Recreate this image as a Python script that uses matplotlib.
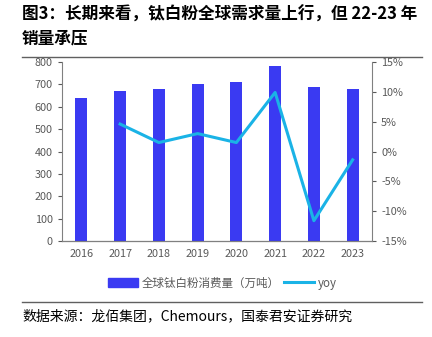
import numpy as np
import matplotlib.pyplot as plt
from matplotlib.lines import Line2D

plt.rcParams['font.family'] = ['Noto Sans CJK SC', 'DejaVu Sans']

# 数据
years = ['2016', '2017', '2018', '2019', '2020', '2021', '2022', '2023']
consumption = [638, 670, 680, 700, 710, 780, 690, 680]
yoy = [np.nan, 4.6, 1.5, 3.0, 1.5, 9.9, -11.6, -1.4]

bar_color = '#3a3af2'
line_color = '#1ab3e6'
tick_color = '#595959'

fig = plt.figure(figsize=(4.32, 3.37), dpi=100)
ax = fig.add_axes([62/432, 1-241/337, 310/432, 179/337])
x = np.arange(len(years))
ax.bar(x, consumption, width=0.31, color=bar_color, zorder=2)
ax.set_xlim(-0.5, len(years) - 0.5)
ax.set_ylim(0, 800)
ax.set_yticks(range(0, 801, 100))
ax.set_xticks(x)
ax.set_xticklabels(years)

ax2 = ax.twinx()
ax2.plot(x, yoy, color=line_color, lw=2.2, zorder=3)
ax2.set_ylim(-15, 15)
ax2.set_yticks(range(-15, 16, 5))
ax2.set_yticklabels([f'{v}%' for v in range(-15, 16, 5)])

for a in (ax, ax2):
    a.spines['top'].set_visible(False)
    a.tick_params(colors=tick_color, labelsize=7.8, length=3, width=0.8)
    for s in a.spines.values():
        s.set_color('#808080')
ax.spines['right'].set_visible(False)
ax2.spines['left'].set_visible(False)
ax.tick_params(axis='x', length=0, pad=6)
ax.spines['bottom'].set_color('#404040')

# 图例
handles = [plt.Rectangle((0, 0), 1, 1, color=bar_color),
           Line2D([0], [0], color=line_color, lw=2.2)]
fig.legend(handles, ['全球钛白粉消费量（万吨）', 'yoy'], loc='center',
           bbox_to_anchor=(0.515, 1-283/337), ncol=2, frameon=False,
           fontsize=8.3, handlelength=2.6, handleheight=0.7,
           columnspacing=0.4, handletextpad=0.3, labelcolor=tick_color)

# 标题
fig.text(22/432, 1-15/337, '图3：长期来看，钛白粉全球需求量上行，但 22-23 年',
         fontsize=12, fontweight='bold', va='center', ha='left')
fig.text(22/432, 1-38/337, '销量承压', fontsize=12, fontweight='bold',
         va='center', ha='left')
fig.add_artist(Line2D([22/432, 422/432], [1-57/337, 1-57/337], color='#606060', lw=1))
fig.add_artist(Line2D([22/432, 422/432], [1-302/337, 1-302/337], color='#606060', lw=1))
fig.text(22/432, 1-316/337, '数据来源：龙佰集团，Chemours，国泰君安证券研究',
         fontsize=10, va='center', ha='left')

fig.savefig('out.png', dpi=100)
